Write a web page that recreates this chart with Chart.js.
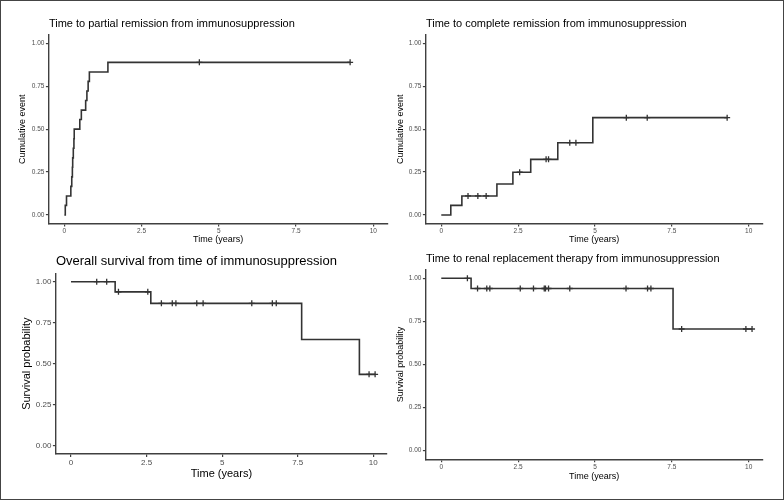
<!DOCTYPE html>
<html>
<head>
<meta charset="utf-8">
<script src="https://cdn.jsdelivr.net/npm/chart.js@4.4.1/dist/chart.umd.min.js"></script>
<style>
  html, body { margin: 0; padding: 0; background: #fff; }
  body { position: relative; width: 784px; height: 500px; overflow: hidden; }
  canvas { position: absolute; }
  #frame {
    position: absolute; left: 0; top: 0; width: 784px; height: 500px;
    box-sizing: border-box; border: 1px solid #444; pointer-events: none;
  }
</style>
</head>
<body>
<canvas id="c-partial"  width="392" height="250" style="left:0;top:0"></canvas>
<canvas id="c-complete" width="392" height="250" style="left:392px;top:0"></canvas>
<canvas id="c-os"       width="392" height="250" style="left:0;top:250px"></canvas>
<canvas id="c-rrt"      width="392" height="250" style="left:392px;top:250px"></canvas>
<div id="frame"></div>
<script>
// ---- data ----
const xTicks = [0, 2.5, 5, 7.5, 10];
const xTickLabels = ['0', '2.5', '5', '7.5', '10'];
const yTicks = [0, 0.25, 0.5, 0.75, 1];
const yTickLabels = ['0.00', '0.25', '0.50', '0.75', '1.00'];

// partial remission (cumulative event)
const partialTimes  = [0, 0.03, 0.07, 0.21, 0.24, 0.26, 0.27, 0.29, 0.31, 0.32, 0.50, 0.55, 0.69, 0.73, 0.77, 0.81, 1.41, 9.25];
const partialValues = [0, 0.056, 0.111, 0.167, 0.222, 0.278, 0.333, 0.389, 0.444, 0.5, 0.556, 0.611, 0.667, 0.722, 0.778, 0.833, 0.889, 0.889];
const partialCensor = [4.37, 9.25];

// complete remission (cumulative event)
const completeTimes  = [0, 0.31, 0.67, 1.81, 2.33, 2.91, 3.79, 4.93, 9.30];
const completeValues = [0, 0.056, 0.111, 0.181, 0.249, 0.324, 0.421, 0.567, 0.567];
const completeCensor = [0.87, 1.19, 1.46, 2.55, 3.41, 3.49, 4.18, 4.38, 6.02, 6.70, 9.30];

// overall survival
const osTimes  = [0, 1.46, 2.64, 7.63, 9.54, 10.06];
const osValues = [1, 0.938, 0.868, 0.648, 0.435, 0.435];
const osCensor = [0.85, 1.18, 1.57, 2.54, 2.99, 3.35, 3.47, 4.16, 4.37, 5.98, 6.66, 6.79, 9.86, 10.06];

// renal replacement therapy
const rrtTimes  = [0, 0.97, 7.54, 10.11];
const rrtValues = [1, 0.941, 0.706, 0.706];
const rrtCensor = [0.85, 1.18, 1.48, 1.58, 2.57, 3.0, 3.35, 3.39, 3.49, 4.18, 6.01, 6.71, 6.82, 7.82, 9.91, 10.11];

// ---- styling ----
const FONT = "'Liberation Sans', Arial, Helvetica, sans-serif";
const INK = '#333333';
const AXIS = '#404040';
const TICK_TEXT = '#4d4d4d';
const LH = 1.2;

// value of a step curve at time t
function stepAt(times, values, t) {
  let v = values[0];
  for (let i = 0; i < times.length; i++) {
    if (times[i] <= t) v = values[i];
  }
  return v;
}

// g: chart area + text positions in canvas coordinates
function kmChart(id, title, yTitle, times, values, censor, g) {
  const W = 392, H = 250;
  const lhT = g.titleSize * LH, lhA = g.axisSize * LH;

  return new Chart(document.getElementById(id), {
    type: 'line',
    data: {
      datasets: [
        {
          data: times.map((t, i) => ({ x: t, y: values[i] })),
          stepped: true,
          borderColor: INK,
          borderWidth: 1.6,
          pointRadius: 0,
          fill: false,
        },
        {
          data: censor.map(t => ({ x: t, y: stepAt(times, values, t) })),
          showLine: false,
          pointStyle: 'cross',
          pointRadius: 3,
          pointBorderColor: INK,
          pointBorderWidth: 1.3,
          borderColor: INK,
        },
      ],
    },
    options: {
      responsive: false,
      animation: false,
      events: [],
      layout: {
        autoPadding: false,
        padding: { left: 0, right: W - g.R, top: 0, bottom: 0 },
      },
      plugins: {
        legend: { display: false },
        tooltip: { enabled: false },
        title: {
          display: true,
          text: title,
          align: 'start',
          fullSize: false,
          color: '#000',
          font: { family: FONT, size: g.titleSize, weight: 'normal', lineHeight: LH },
          padding: { top: g.titleY - lhT / 2, bottom: g.T - g.titleY - lhT / 2 },
        },
      },
      scales: {
        x: {
          type: 'linear',
          min: -0.5,
          max: 10.45,
          afterFit: s => { s.height = H - g.B; },
          afterBuildTicks: s => { s.ticks = xTicks.map(v => ({ value: v })); },
          border: { display: true, color: AXIS, width: 1.4 },
          grid: { display: true, drawOnChartArea: false, drawTicks: true, tickLength: 3, color: AXIS, lineWidth: 1.2 },
          ticks: {
            autoSkip: false, maxRotation: 0, padding: 1, color: TICK_TEXT,
            font: { family: FONT, size: g.tickSize },
            callback: (v, i) => xTickLabels[i],
          },
          title: {
            display: true, text: 'Time (years)', color: '#000',
            font: { family: FONT, size: g.axisSize, lineHeight: LH },
            padding: { top: 0, bottom: H - g.xTitleY - lhA / 2 },
          },
        },
        y: {
          min: -0.05,
          max: 1.05,
          afterFit: s => { s.width = g.L; },
          afterBuildTicks: s => { s.ticks = yTicks.map(v => ({ value: v })); },
          border: { display: true, color: AXIS, width: 1.4 },
          grid: { display: true, drawOnChartArea: false, drawTicks: true, tickLength: 3, color: AXIS, lineWidth: 1.2 },
          ticks: {
            autoSkip: false, padding: 1.5, color: TICK_TEXT,
            font: { family: FONT, size: g.tickSize },
            callback: (v, i) => yTickLabels[i],
          },
          title: {
            display: true, text: yTitle, color: '#000',
            font: { family: FONT, size: g.axisSize, lineHeight: LH },
            padding: { top: g.yTitleX - lhA / 2, bottom: 0 },
          },
        },
      },
    },
  });
}

kmChart('c-partial', 'Time to partial remission from immunosuppression', 'Cumulative event',
  partialTimes, partialValues, partialCensor,
  { L: 48.9, R: 387.2, T: 34.7, B: 223.6, titleY: 24, titleSize: 11, yTitleX: 23, xTitleY: 240, axisSize: 9, tickSize: 6.5 });

kmChart('c-complete', 'Time to complete remission from immunosuppression', 'Cumulative event',
  completeTimes, completeValues, completeCensor,
  { L: 33.9, R: 370.5, T: 34.7, B: 223.6, titleY: 24, titleSize: 11, yTitleX: 8.3, xTitleY: 240, axisSize: 9, tickSize: 6.5 });

kmChart('c-os', 'Overall survival from time of immunosuppression', 'Survival probability',
  osTimes, osValues, osCensor,
  { L: 55.9, R: 386.9, T: 23.5, B: 203.9, titleY: 11, titleSize: 13, yTitleX: 27, xTitleY: 224, axisSize: 11, tickSize: 8 });

kmChart('c-rrt', 'Time to renal replacement therapy from immunosuppression', 'Survival probability',
  rrtTimes, rrtValues, rrtCensor,
  { L: 33.9, R: 370.5, T: 19.7, B: 209.3, titleY: 9.3, titleSize: 11, yTitleX: 8.3, xTitleY: 226.7, axisSize: 9, tickSize: 6.5 });
</script>
</body>
</html>
